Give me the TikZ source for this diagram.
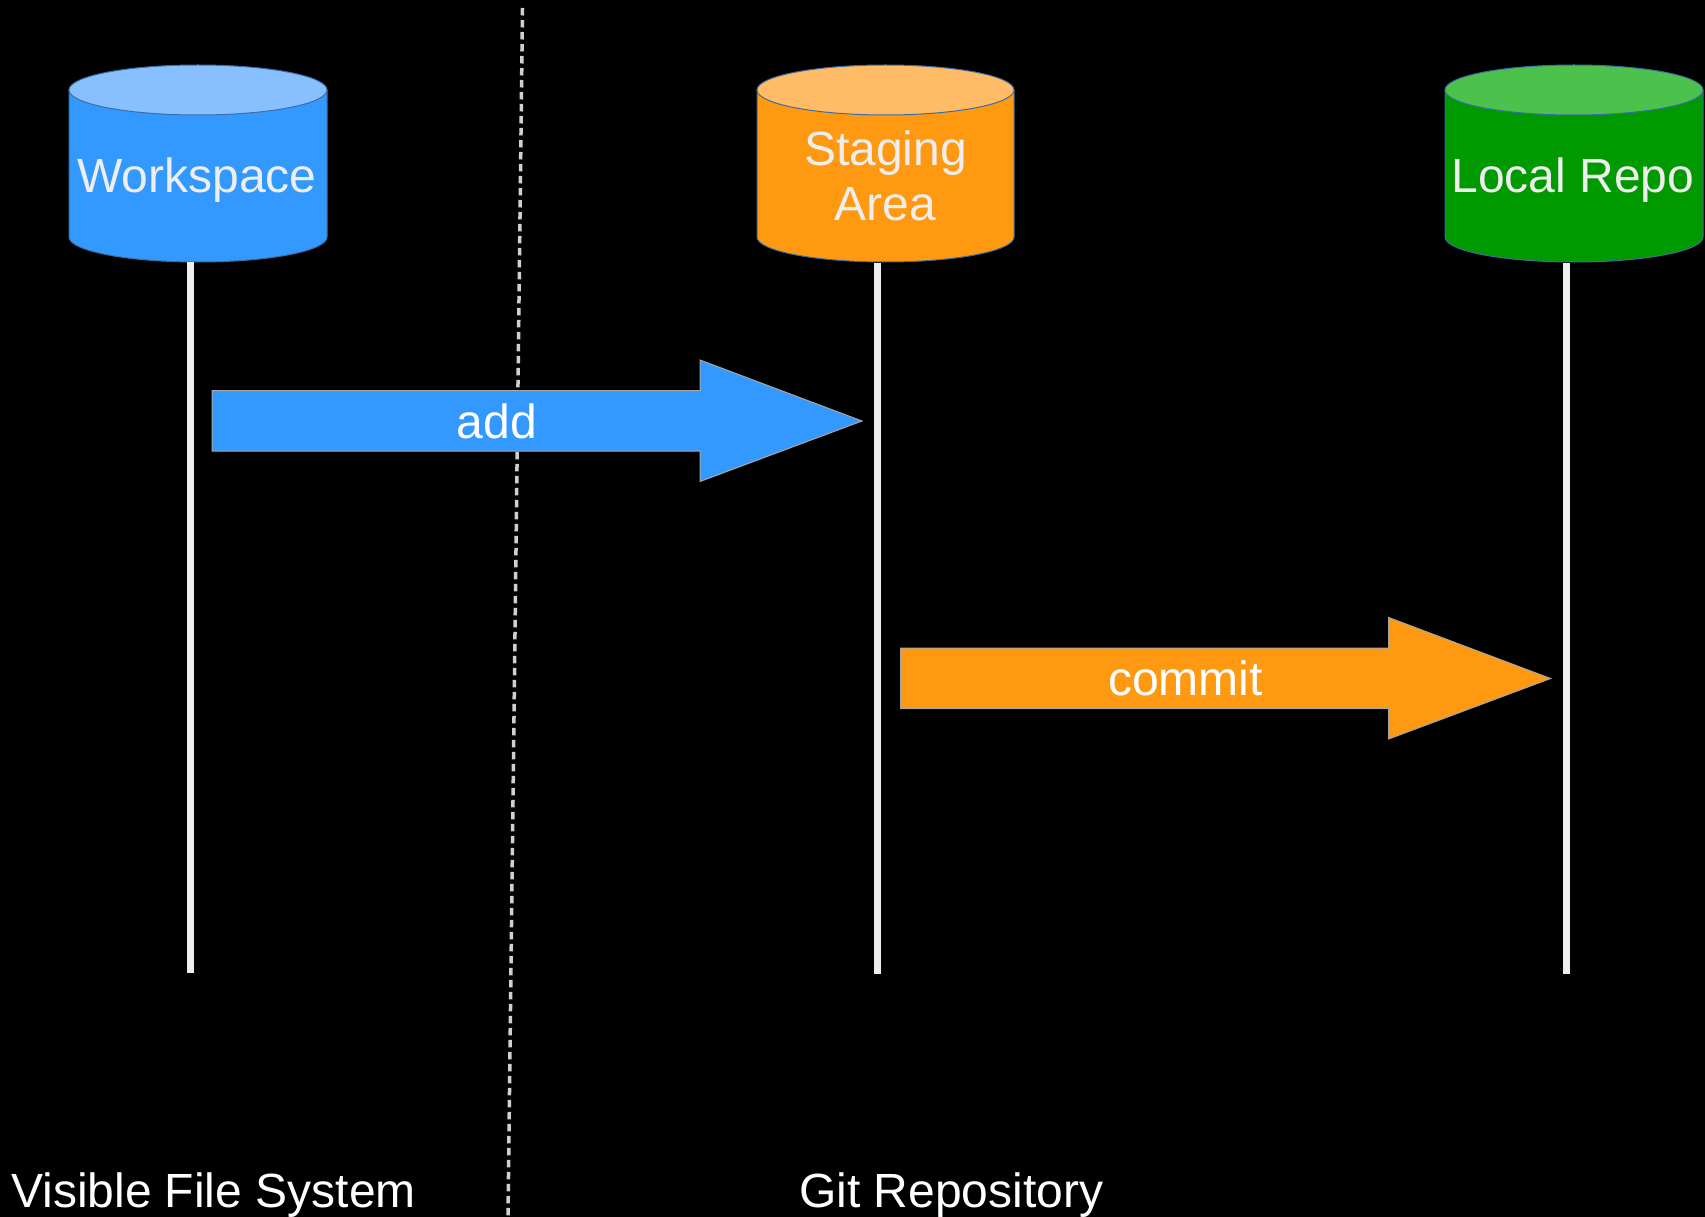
\documentclass[tikz,border=0pt]{standalone}
\usepackage{fontspec}
\setmainfont{Liberation Sans}
\definecolor{wsbody}{HTML}{3399FF}
\definecolor{wstop}{HTML}{88C0FF}
\definecolor{stbody}{HTML}{FF9911}
\definecolor{sttop}{HTML}{FFBB66}
\definecolor{lrbody}{HTML}{009900}
\definecolor{lrtop}{HTML}{4CC24C}
\definecolor{cylline}{HTML}{3B6EA5}
\definecolor{lifeline}{HTML}{EEEEEE}
\definecolor{sepcol}{HTML}{D0D0D0}
\definecolor{txtgray}{HTML}{EEEEEE}
\begin{document}
\begin{tikzpicture}[x=1pt,y=-1pt,
  cylout/.style={draw=cylline, line width=1pt},
  lifeln/.style={draw=lifeline, line width=7pt},
  sepline/.style={draw=sepcol, line width=3.5pt, dash pattern=on 7.5pt off 4.5pt},
  arrowshape/.style={draw=gray!70, line width=1pt},
  bigtext/.style={font=\fontsize{48}{55}\selectfont, inner sep=0pt},
  cyltext/.style={bigtext, text=txtgray, align=center},
  arrtext/.style={bigtext, text=white, anchor=base},
  foottext/.style={bigtext, text=white, anchor=base west}
]
\useasboundingbox (0,0) rectangle (1705,1217);
\fill[black] (0,0) rectangle (1705,1217);

% separator
\coordinate (septop) at (522.5,8);
\coordinate (sepbot) at (508,1217);
\draw[sepline] (septop) -- (sepbot);

% cylinders
\newcommand{\mycyl}[4]{% cx, body, top colour, rx
  \path[cylout, fill=#2] (#1-#4,90) -- (#1-#4,237) arc[start angle=180, end angle=0, x radius=#4, y radius=25] -- (#1+#4,90) -- cycle;
  \path[cylout, fill=#3] (#1,90) ellipse[x radius=#4, y radius=25];
}
\mycyl{198}{wsbody}{wstop}{129}
\mycyl{885.5}{stbody}{sttop}{128.5}
\mycyl{1574}{lrbody}{lrtop}{129}

\node[cyltext, anchor=base] (ws) at (197,193) {Workspace};
\node[cyltext] (st) at (885.5,176) {Staging\\Area};
\node[cyltext, anchor=base] (lr) at (1573,193) {Local Repo};

% lifelines
\coordinate (wstopl) at (190,262);
\coordinate (wsbot) at (190,973);
\coordinate (sttopl) at (877.7,263);
\coordinate (stbot) at (877.7,974);
\coordinate (lrtopl) at (1566,263);
\coordinate (lrbot) at (1566,974);
\draw[lifeln] (wstopl) -- (wsbot);
\draw[lifeln] (sttopl) -- (stbot);
\draw[lifeln] (lrtopl) -- (lrbot);

% add arrow
\path[arrowshape, fill=wsbody] (212,390.5) -- (700,390.5) -- (700,360) -- (862,421) -- (700,481.5) -- (700,451) -- (212,451) -- cycle;
\node[arrtext] (add) at (497,438) {add};

% commit arrow
\begin{scope}[shift={(688.6,257.5)}]
\path[arrowshape, fill=stbody] (212,390.5) -- (700,390.5) -- (700,360) -- (862,421) -- (700,481.5) -- (700,451) -- (212,451) -- cycle;
\node[arrtext] (commit) at (497,438) {commit};
\end{scope}

% footer labels
\node[foottext] (vfs) at (11,1207) {Visible File System};
\node[foottext] (gitrepo) at (799,1207) {Git Repository};
\end{tikzpicture}
\end{document}
